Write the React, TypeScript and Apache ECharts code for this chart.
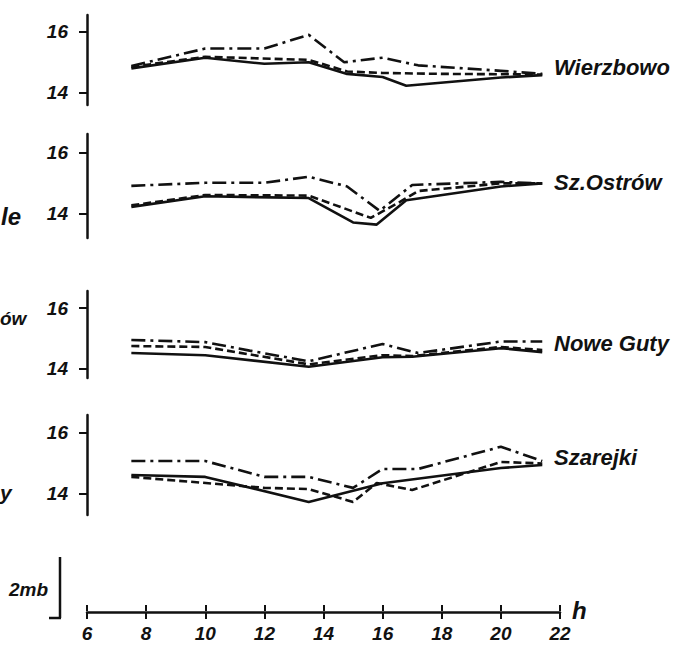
import React, { useEffect, useRef } from "react";
import * as echarts from "echarts";

// hours of the day on the common time axis
const hourTicks = [6, 8, 10, 12, 14, 16, 18, 20, 22];
const pressureTicks = [14, 16];

const stations = ["Wierzbowo", "Sz.Ostrów", "Nowe Guty", "Szarejki"];

// [hour, value] — value on the panel's scale (14..16)
const wierzbowoSolid = [[7.5, 14.8], [10, 15.15], [12, 14.95], [13.5, 15.0], [14.8, 14.62], [16, 14.52], [16.8, 14.23], [20, 14.5], [21.4, 14.58]];
const wierzbowoDashed = [[7.5, 14.85], [10, 15.18], [13.5, 15.08], [14.8, 14.7], [16, 14.65], [18, 14.62], [21.4, 14.6]];
const wierzbowoDashDot = [[7.5, 14.88], [10, 15.45], [12, 15.45], [13.5, 15.9], [14.7, 15.0], [16, 15.15], [17.2, 14.9], [20, 14.72], [21.4, 14.62]];

const ostrowSolid = [[7.5, 14.23], [10, 14.58], [13.5, 14.52], [15, 13.72], [15.8, 13.65], [16.8, 14.45], [20, 14.9], [21.4, 15.0]];
const ostrowDashed = [[7.5, 14.28], [10, 14.62], [13.5, 14.6], [15.6, 13.87], [16.6, 14.4], [17.2, 14.75], [20, 15.0], [21.4, 15.0]];
const ostrowDashDot = [[7.5, 14.92], [10, 15.02], [12, 15.02], [13.5, 15.22], [14.8, 14.9], [15.9, 14.1], [17, 14.95], [20, 15.05], [21.4, 15.0]];

const gutySolid = [[7.5, 14.52], [10, 14.45], [13.5, 14.07], [16, 14.38], [17, 14.4], [20, 14.68], [21.4, 14.55]];
const gutyDashed = [[7.5, 14.75], [10, 14.72], [13.5, 14.15], [16, 14.45], [17, 14.42], [20, 14.72], [21.4, 14.62]];
const gutyDashDot = [[7.5, 14.95], [10, 14.88], [11.5, 14.6], [13.5, 14.25], [16, 14.82], [17.2, 14.52], [20, 14.9], [21.4, 14.9]];

const szarejkiSolid = [[7.5, 14.62], [10, 14.56], [13.5, 13.74], [16, 14.35], [20, 14.85], [21.4, 14.95]];
const szarejkiDashed = [[7.5, 14.56], [12, 14.2], [13.5, 14.16], [15, 13.74], [15.8, 14.36], [17, 14.13], [20, 15.05], [21.4, 15.0]];
const szarejkiDashDot = [[7.5, 15.08], [10, 15.08], [12, 14.56], [13.5, 14.56], [15, 14.2], [16, 14.82], [17.2, 14.82], [20, 15.55], [21.4, 15.08]];

const panelData = [
  [wierzbowoSolid, wierzbowoDashed, wierzbowoDashDot],
  [ostrowSolid, ostrowDashed, ostrowDashDot],
  [gutySolid, gutyDashed, gutyDashDot],
  [szarejkiSolid, szarejkiDashed, szarejkiDashDot],
];

// layout of panels (pixels) and their value ranges
const panels = [
  { top: 15, height: 90, min: 13.6, max: 16.55, labelY: 67 },
  { top: 134, height: 104, min: 13.21, max: 16.62, labelY: 182 },
  { top: 291, height: 87, min: 13.7, max: 16.56, labelY: 343 },
  { top: 415, height: 100, min: 13.31, max: 16.59, labelY: 457 },
];

const GRID_LEFT = 87;
const GRID_RIGHT = 128;
const INK = "#111";
const LABEL_FONT = '"Liberation Sans", "DejaVu Sans", sans-serif';

const lineTypes: any[] = ["solid", [8, 4], [14, 5, 3, 5]];

export default function App() {
  const ref = useRef<HTMLDivElement>(null);

  useEffect(() => {
    document.body.style.margin = "0";
    if (!ref.current) return;
    const chart = echarts.init(ref.current, null, { renderer: "svg" });

    const grid: any[] = panels.map((p) => ({
      left: GRID_LEFT,
      right: GRID_RIGHT,
      top: p.top,
      height: p.height,
      containLabel: false,
    }));
    grid.push({ left: GRID_LEFT, right: GRID_RIGHT, top: 611, height: 1 });

    const xAxis: any[] = panels.map((_, i) => ({
      type: "value",
      gridIndex: i,
      min: 6,
      max: 22,
      show: false,
    }));
    xAxis.push({
      type: "value",
      gridIndex: 4,
      position: "bottom",
      min: 6,
      max: 22,
      interval: 2,
      axisLine: { show: true, lineStyle: { color: INK, width: 2.5 } },
      axisTick: { show: true, inside: false, length: 7, lineStyle: { color: INK, width: 2 } },
      axisLabel: {
        show: true,
        margin: 12,
        color: INK,
        fontFamily: LABEL_FONT,
        fontStyle: "italic",
        fontWeight: "bold",
        fontSize: 19,
        formatter: (v: number) => (hourTicks.includes(v) ? String(v) : ""),
      },
      splitLine: { show: false },
    });
    xAxis.push({
      type: "value",
      gridIndex: 4,
      position: "top",
      min: 6,
      max: 22,
      interval: 2,
      axisLine: { show: false },
      axisTick: { show: true, inside: false, length: 6, lineStyle: { color: INK, width: 2 } },
      axisLabel: { show: false },
      splitLine: { show: false },
    });

    const yAxis: any[] = panels.map((p, i) => ({
      type: "value",
      gridIndex: i,
      min: p.min,
      max: p.max,
      axisLine: { show: true, lineStyle: { color: INK, width: 2.5 } },
      axisTick: { show: true, customValues: pressureTicks, length: 8, lineStyle: { color: INK, width: 2 } },
      axisLabel: {
        show: true,
        customValues: pressureTicks,
        margin: 19,
        color: INK,
        fontFamily: LABEL_FONT,
        fontStyle: "italic",
        fontWeight: "bold",
        fontSize: 19,
      },
      splitLine: { show: false },
    }));
    yAxis.push({ type: "value", gridIndex: 4, show: false, min: 0, max: 1 });

    const series: any[] = [];
    panelData.forEach((lines, i) => {
      lines.forEach((data, k) => {
        series.push({
          type: "line",
          xAxisIndex: i,
          yAxisIndex: i,
          data,
          showSymbol: false,
          symbol: "none",
          silent: true,
          lineStyle: { color: INK, width: 2.6, type: lineTypes[k] },
        });
      });
    });

    const textStyle = (text: string, size: number) => ({
      text,
      fill: INK,
      font: `italic bold ${size}px ${LABEL_FONT}`,
      textAlign: "left",
      align: "left",
      textVerticalAlign: "middle",
      verticalAlign: "middle",
    });

    const graphic: any[] = [];
    stations.forEach((name, i) => {
      graphic.push({ type: "text", x: 554, y: panels[i].labelY, style: textStyle(name, 22) });
    });
    // labels at the left border
    graphic.push({ type: "text", x: 1, y: 216, style: textStyle("le", 24) });
    graphic.push({ type: "text", x: 0, y: 318, style: textStyle("ów", 19) });
    graphic.push({ type: "text", x: 0, y: 492, style: textStyle("y", 21) });
    // axis unit
    graphic.push({ type: "text", x: 572, y: 610, style: textStyle("h", 24) });
    // 2 mb scale bar
    graphic.push({ type: "line", shape: { x1: 60, y1: 557, x2: 60, y2: 618 }, style: { stroke: INK, lineWidth: 2.5 } });
    graphic.push({ type: "line", shape: { x1: 49, y1: 618, x2: 61, y2: 618 }, style: { stroke: INK, lineWidth: 2.5 } });
    graphic.push({ type: "text", x: 9, y: 589, style: textStyle("2mb", 19) });

    chart.setOption({
      animation: false,
      backgroundColor: "#fff",
      grid,
      xAxis,
      yAxis,
      series,
      graphic,
    });

    return () => chart.dispose();
  }, []);

  return <div ref={ref} style={{ width: 688, height: 648 }} />;
}
